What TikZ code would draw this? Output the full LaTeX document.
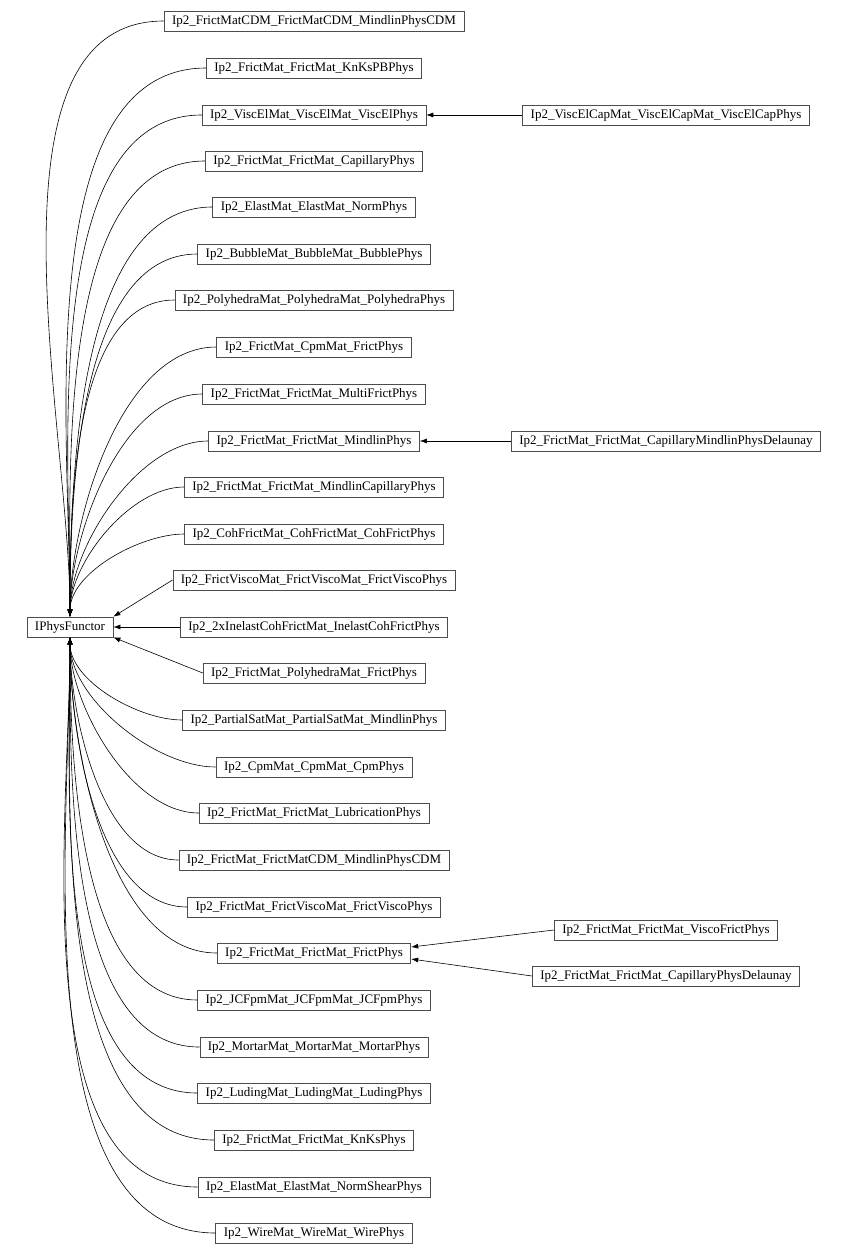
\documentclass[tikz,border=0pt]{standalone}
\usepackage{fontspec}
\setmainfont{Liberation Serif}
\usetikzlibrary{arrows.meta}
\begin{document}
\begin{tikzpicture}[x=1pt,y=-1pt,
  cls/.style={draw=black!70,line width=0.7pt,inner sep=0pt,minimum height=20pt,text height=9pt,text depth=2.5pt,inner xsep=8pt,font=\fontsize{13}{14}\selectfont},
  inh/.style={line width=0.6pt,-{Latex[length=7pt,width=5pt]}}]
\useasboundingbox (0,0) rectangle (846,1256);
\node[cls] (ip) at (70,627) {IPhysFunctor};
\foreach \n/\y/\t in {
 a/21/Ip2\_FrictMatCDM\_FrictMatCDM\_MindlinPhysCDM,
 b/68/Ip2\_FrictMat\_FrictMat\_KnKsPBPhys,
 c/115/Ip2\_ViscElMat\_ViscElMat\_ViscElPhys,
 d/161/Ip2\_FrictMat\_FrictMat\_CapillaryPhys,
 e/207/Ip2\_ElastMat\_ElastMat\_NormPhys,
 f/254/Ip2\_BubbleMat\_BubbleMat\_BubblePhys,
 g/300/Ip2\_PolyhedraMat\_PolyhedraMat\_PolyhedraPhys,
 h/347/Ip2\_FrictMat\_CpmMat\_FrictPhys,
 i/394/Ip2\_FrictMat\_FrictMat\_MultiFrictPhys,
 j/441/Ip2\_FrictMat\_FrictMat\_MindlinPhys,
 k/487/Ip2\_FrictMat\_FrictMat\_MindlinCapillaryPhys,
 l/534/Ip2\_CohFrictMat\_CohFrictMat\_CohFrictPhys,
 m/580/Ip2\_FrictViscoMat\_FrictViscoMat\_FrictViscoPhys,
 n/627/Ip2\_2xInelastCohFrictMat\_InelastCohFrictPhys,
 o/673/Ip2\_FrictMat\_PolyhedraMat\_FrictPhys,
 p/720/Ip2\_PartialSatMat\_PartialSatMat\_MindlinPhys,
 q/767/Ip2\_CpmMat\_CpmMat\_CpmPhys,
 r/813/Ip2\_FrictMat\_FrictMat\_LubricationPhys,
 s/860/Ip2\_FrictMat\_FrictMatCDM\_MindlinPhysCDM,
 t/907/Ip2\_FrictMat\_FrictViscoMat\_FrictViscoPhys,
 u/953/Ip2\_FrictMat\_FrictMat\_FrictPhys,
 v/1000/Ip2\_JCFpmMat\_JCFpmMat\_JCFpmPhys,
 w/1047/Ip2\_MortarMat\_MortarMat\_MortarPhys,
 x/1093/Ip2\_LudingMat\_LudingMat\_LudingPhys,
 y/1140/Ip2\_FrictMat\_FrictMat\_KnKsPhys,
 z/1187/Ip2\_ElastMat\_ElastMat\_NormShearPhys,
 zz/1233/Ip2\_WireMat\_WireMat\_WirePhys}
 {\node[cls] (\n) at (314,\y) {\t};}
\foreach \n in {a,b,c,d,e,f,g,h,i,j,k,l}
  \draw[inh] (\n.west) to[out=180,in=90,looseness=0.8] (ip.north);
\foreach \n in {p,q,r,s,t,u,v,w,x,y,z,zz}
  \draw[inh] (\n.west) to[out=180,in=-90,looseness=0.8] (ip.south);
\draw[inh] (m.west) -- (ip.north east);
\draw[inh] (n.west) -- (ip.east);
\draw[inh] (o.west) -- (ip.south east);
\node[cls] (c2) at (666,115) {Ip2\_ViscElCapMat\_ViscElCapMat\_ViscElCapPhys};
\node[cls] (j2) at (666,441) {Ip2\_FrictMat\_FrictMat\_CapillaryMindlinPhysDelaunay};
\node[cls] (u1) at (666,930) {Ip2\_FrictMat\_FrictMat\_ViscoFrictPhys};
\node[cls] (u2) at (666,976) {Ip2\_FrictMat\_FrictMat\_CapillaryPhysDelaunay};
\draw[inh] (c2.west) -- (c.east);
\draw[inh] (j2.west) -- (j.east);
\draw[inh] (u1.west) -- ([yshift=6pt]u.east);
\draw[inh] (u2.west) -- ([yshift=-6pt]u.east);
\end{tikzpicture}
\end{document}
